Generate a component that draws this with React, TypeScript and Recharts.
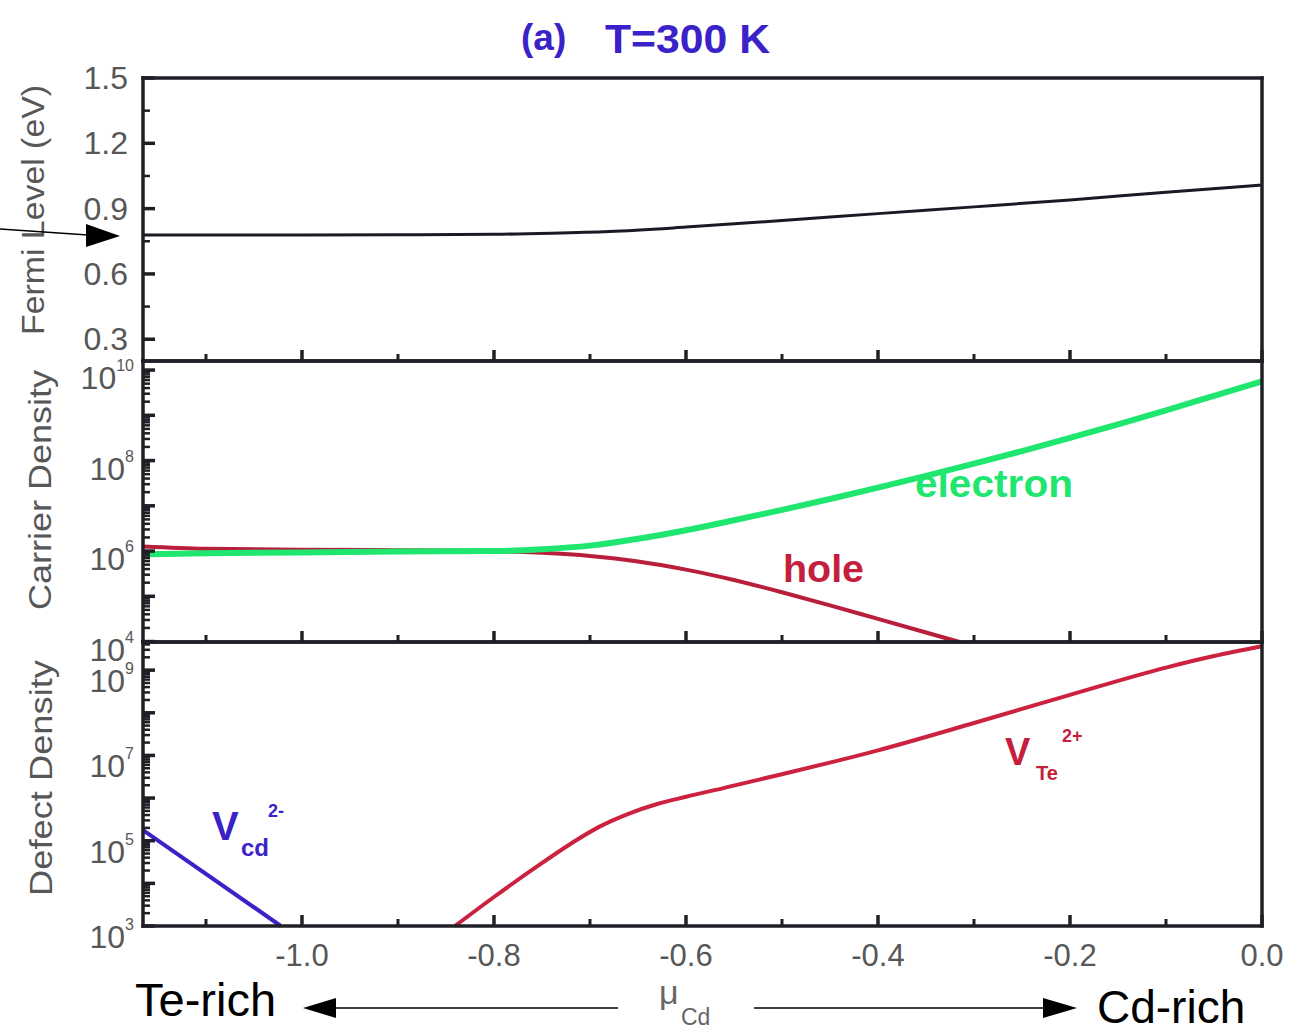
import React from 'react';
import { LineChart, Line, XAxis, YAxis } from 'recharts';

const FONT = '"Liberation Sans", Arial, Helvetica, sans-serif';
const INK = '#1f1f26';
const GREY = '#575757';
const GREEN = '#1ee66e';
const CRIMSON = '#c4203e';
const BLUE = '#3a22c8';

// chemical potential of Cd (eV)
const muDomain: [number, number] = [-1.1656, 0];
const muTicks = [-1.1, -1.0, -0.9, -0.8, -0.7, -0.6, -0.5, -0.4, -0.3, -0.2, -0.1, 0];

// Fermi level (eV)
const fermiMu = [-1.1656, -1.0, -0.9, -0.8, -0.74, -0.68, -0.6, -0.5, -0.4, -0.3, -0.2, -0.1, 0];
const fermiLevel = [0.779, 0.779, 0.78, 0.782, 0.787, 0.795, 0.815, 0.845, 0.877, 0.908, 0.94, 0.975, 1.008];

// carrier densities, log10
const electronMu = [-1.1656, -1.1, -1.0, -0.9, -0.8, -0.75, -0.7, -0.65, -0.6, -0.55, -0.5, -0.45, -0.4, -0.35, -0.3, -0.25, -0.2, -0.15, -0.1, -0.05, 0];
const electronLog = [5.93, 5.95, 5.97, 5.99, 6.0, 6.04, 6.12, 6.27, 6.46, 6.68, 6.91, 7.15, 7.4, 7.66, 7.93, 8.21, 8.5, 8.8, 9.11, 9.43, 9.75];
const holeMu = [-1.1656, -1.1, -1.0, -0.9, -0.8, -0.75, -0.7, -0.65, -0.6, -0.55, -0.5, -0.45, -0.4, -0.35, -0.315];
const holeLog = [6.1, 6.05, 6.03, 6.02, 6.0, 5.96, 5.89, 5.77, 5.59, 5.36, 5.09, 4.8, 4.5, 4.2, 3.99];

// defect densities, log10
const vTeMu = [-0.8406, -0.8, -0.76, -0.72, -0.69, -0.66, -0.63, -0.6, -0.56, -0.5, -0.4, -0.3, -0.2, -0.1, -0.05, 0];
const vTeLog = [3.0, 3.68, 4.32, 4.93, 5.33, 5.63, 5.86, 6.03, 6.24, 6.56, 7.12, 7.76, 8.42, 9.06, 9.33, 9.56];
const vCdMu = [-1.1656, -1.022];
const vCdLog = [5.25, 3.0];

// axis ticks
const fermiTicks = [0.3, 0.45, 0.6, 0.75, 0.9, 1.05, 1.2, 1.35, 1.5];
const fermiLabels = [0.3, 0.6, 0.9, 1.2, 1.5];
const carrierDecades = [4, 5, 6, 7, 8, 9, 10];
const carrierLabels = [4, 6, 8, 10];
const defectDecades = [3, 4, 5, 6, 7, 8, 9];
const defectLabels = [3, 5, 7, 9];

const zip = (xs: number[], ys: number[]) => xs.map((mu, i) => ({ mu, v: ys[i] }));

// decade ticks plus the 2..9 minor ticks of a log axis drawn on log10 values
const logTicks = (decades: number[], top: number) => {
  const out: number[] = [];
  decades.forEach((d) => {
    for (let k = 1; k < 10; k++) {
      const t = d + Math.log10(k);
      if (t <= top + 1e-9) out.push(t);
    }
  });
  return out;
};

const near = (list: number[], v: number) => list.some((l) => Math.abs(l - v) < 1e-6);

const frame = { stroke: INK, strokeWidth: 3.5, strokeLinecap: 'square' as const };

const xTick = (side: 'top' | 'bottom', labelled: boolean) => (props: any) => {
  const { x, y, payload } = props;
  const v = payload.value as number;
  const major = Math.round(v * 10) % 2 === 0;
  const len = major ? 11 : 7;
  const d = side === 'top' ? 1 : -1;
  return (
    <g>
      <line x1={x} x2={x} y1={y} y2={y + d * len} stroke={INK} strokeWidth={major ? 3.5 : 3} />
      {labelled && major && (
        <text x={x} y={y + 40} textAnchor="middle" fontSize={31} fill={GREY} fontFamily={FONT}>
          {Math.abs(v) < 1e-9 ? '0.0' : v.toFixed(1)}
        </text>
      )}
    </g>
  );
};

type LabelFn = (v: number, x: number, y: number) => React.ReactNode;

const yTick = (side: 'left' | 'right', isMajor: (v: number) => boolean, label?: LabelFn) => (props: any) => {
  const { x, y, payload } = props;
  const v = payload.value as number;
  const major = isMajor(v);
  const len = major ? 12 : 7;
  const d = side === 'left' ? 1 : -1;
  return (
    <g>
      <line x1={x} x2={x + d * len} y1={y} y2={y} stroke={INK} strokeWidth={major ? 3.5 : 2.5} />
      {side === 'left' && label ? label(v, x, y) : null}
    </g>
  );
};

const fermiLabel: LabelFn = (v, x, y) =>
  near(fermiLabels, v) ? (
    <text x={x - 15} y={y + 11} textAnchor="end" fontSize={32} fill={GREY} fontFamily={FONT}>
      {v.toFixed(1)}
    </text>
  ) : null;

const powerLabel = (labels: number[], drop: number): LabelFn => (v, x, y) =>
  near(labels, v) ? (
    <text x={x - 9} y={y + drop} textAnchor="end" fill={GREY} fontFamily={FONT}>
      <tspan fontSize={32}>10</tspan>
      <tspan fontSize={16} dy={-18}>{Math.round(v)}</tspan>
    </text>
  ) : null;

const isDecade = (v: number) => Math.abs(v - Math.round(v)) < 1e-6;

interface PanelProps {
  top: number;
  height: number;
  marginTop: number;
  marginBottom: number;
  bottomAxis: number;
  labelled: boolean;
  domain: [number, number];
  ticks: number[];
  isMajor: (v: number) => boolean;
  label: LabelFn;
  children: React.ReactNode;
}

const Panel = ({ top, height, marginTop, marginBottom, bottomAxis, labelled, domain, ticks, isMajor, label, children }: PanelProps) => (
  <div style={{ position: 'absolute', left: 0, top }}>
    <LineChart width={1304} height={height} margin={{ top: marginTop, right: 0, bottom: marginBottom, left: 0 }}>
      <XAxis xAxisId="b" type="number" dataKey="mu" domain={muDomain} ticks={muTicks} interval={0}
        height={bottomAxis} tickSize={0} tickMargin={0} tickLine={false} axisLine={frame}
        tick={xTick('bottom', labelled)} />
      <XAxis xAxisId="t" orientation="top" type="number" dataKey="mu" domain={muDomain} ticks={muTicks}
        interval={0} height={10} tickSize={0} tickMargin={0} tickLine={false} axisLine={frame}
        tick={xTick('top', false)} />
      <YAxis yAxisId="l" type="number" domain={domain} ticks={ticks} interval={0} width={143}
        tickSize={0} tickMargin={0} tickLine={false} axisLine={frame} tick={yTick('left', isMajor, label)} />
      <YAxis yAxisId="r" orientation="right" type="number" domain={domain} ticks={ticks} interval={0}
        width={42} tickSize={0} tickMargin={0} tickLine={false} axisLine={frame} tick={yTick('right', isMajor)} />
      {children}
    </LineChart>
  </div>
);

const Annotations = () => (
  <svg width={1304} height={1031} style={{ position: 'absolute', left: 0, top: 0, pointerEvents: 'none' }}
    fontFamily={FONT}>
    {/* panel title */}
    <text x={521} y={50} fontSize={37} fontWeight="bold" fill={BLUE}>(a)</text>
    <text x={605} y={53} fontSize={40} fontWeight="bold" fill={BLUE} textLength={165} lengthAdjust="spacingAndGlyphs">T=300 K</text>

    {/* axis titles */}
    <text transform="translate(33,210) rotate(-90)" textAnchor="middle" dominantBaseline="central" fontSize={32}
      fill={GREY} textLength={250} lengthAdjust="spacingAndGlyphs">Fermi Level (eV)</text>
    <text transform="translate(40,490) rotate(-90)" textAnchor="middle" dominantBaseline="central" fontSize={32}
      fill={GREY} textLength={240} lengthAdjust="spacingAndGlyphs">Carrier Density</text>
    <text transform="translate(41,778) rotate(-90)" textAnchor="middle" dominantBaseline="central" fontSize={32}
      fill={GREY} textLength={236} lengthAdjust="spacingAndGlyphs">Defect Density</text>

    {/* pointer to the Fermi level at the Te-rich limit */}
    <line x1={0} y1={229} x2={88} y2={235} stroke="#000" strokeWidth={1.5} />
    <polygon points="86,224 120,236 86,247" fill="#000" />

    {/* curve labels */}
    <text x={915} y={497} fontSize={38} fontWeight="bold" fill={GREEN} textLength={158} lengthAdjust="spacingAndGlyphs">electron</text>
    <text x={783} y={582} fontSize={38} fontWeight="bold" fill={CRIMSON} textLength={81} lengthAdjust="spacingAndGlyphs">hole</text>
    <text x={1005} y={765} fontSize={38} fontWeight="bold" fill={CRIMSON}>V</text>
    <text x={1036} y={780} fontSize={20} fontWeight="bold" fill={CRIMSON}>Te</text>
    <text x={1062} y={742} fontSize={18} fontWeight="bold" fill={CRIMSON}>2+</text>
    <text x={212} y={840} fontSize={40} fontWeight="bold" fill={BLUE}>V</text>
    <text x={241} y={856} fontSize={24} fontWeight="bold" fill={BLUE}>cd</text>
    <text x={268} y={817} fontSize={18} fontWeight="bold" fill={BLUE}>2-</text>

    {/* chemical potential direction */}
    <text x={135} y={1016} fontSize={47} fill="#000">Te-rich</text>
    <text x={1097} y={1023} fontSize={46} fill="#000">Cd-rich</text>
    <line x1={618} y1={1008} x2={330} y2={1008} stroke="#000" strokeWidth={1.5} />
    <polygon points="303,1008 336,998 336,1018" fill="#000" />
    <line x1={754} y1={1008} x2={1045} y2={1008} stroke="#000" strokeWidth={1.5} />
    <polygon points="1077,1008 1043,998 1043,1018" fill="#000" />
    <text x={659} y={1004} fontSize={34} fill="#666">μ</text>
    <text x={681} y={1025} fontSize={23} fill="#666">Cd</text>
  </svg>
);

export default function App() {
  const carrierTicks = logTicks(carrierDecades, 10.2);
  const defectTicks = logTicks(defectDecades, 9.66);
  return (
    <div style={{ position: 'absolute', left: 0, top: 0, width: 1304, height: 1031, background: '#fff', fontFamily: FONT }}>
      <Panel top={0} height={391} marginTop={68} marginBottom={20} bottomAxis={10} labelled={false} domain={[0.2, 1.5]}
        ticks={fermiTicks} isMajor={(v) => near(fermiLabels, v)} label={fermiLabel}>
        <Line xAxisId="b" yAxisId="l" data={zip(fermiMu, fermiLevel)} dataKey="v" type="monotone"
          stroke="#1a1a24" strokeWidth={3} dot={false} isAnimationActive={false} />
      </Panel>
      <Panel top={300} height={382} marginTop={51} marginBottom={30} bottomAxis={10} labelled={false} domain={[4, 10.2]}
        ticks={carrierTicks} isMajor={isDecade} label={powerLabel(carrierLabels, 19)}>
        <Line xAxisId="b" yAxisId="l" data={zip(holeMu, holeLog)} dataKey="v" type="monotone"
          stroke="#b81f3c" strokeWidth={4} dot={false} isAnimationActive={false} />
        <Line xAxisId="b" yAxisId="l" data={zip(electronMu, electronLog)} dataKey="v" type="monotone"
          stroke={GREEN} strokeWidth={6} dot={false} isAnimationActive={false} />
      </Panel>
      <Panel top={580} height={406} marginTop={52} marginBottom={0} bottomAxis={60} labelled domain={[3, 9.66]}
        ticks={defectTicks} isMajor={isDecade} label={powerLabel(defectLabels, 22)}>
        <Line xAxisId="b" yAxisId="l" data={zip(vCdMu, vCdLog)} dataKey="v" type="linear"
          stroke={BLUE} strokeWidth={4} dot={false} isAnimationActive={false} />
        <Line xAxisId="b" yAxisId="l" data={zip(vTeMu, vTeLog)} dataKey="v" type="monotone"
          stroke="#cc2240" strokeWidth={4} dot={false} isAnimationActive={false} />
      </Panel>
      <Annotations />
    </div>
  );
}
